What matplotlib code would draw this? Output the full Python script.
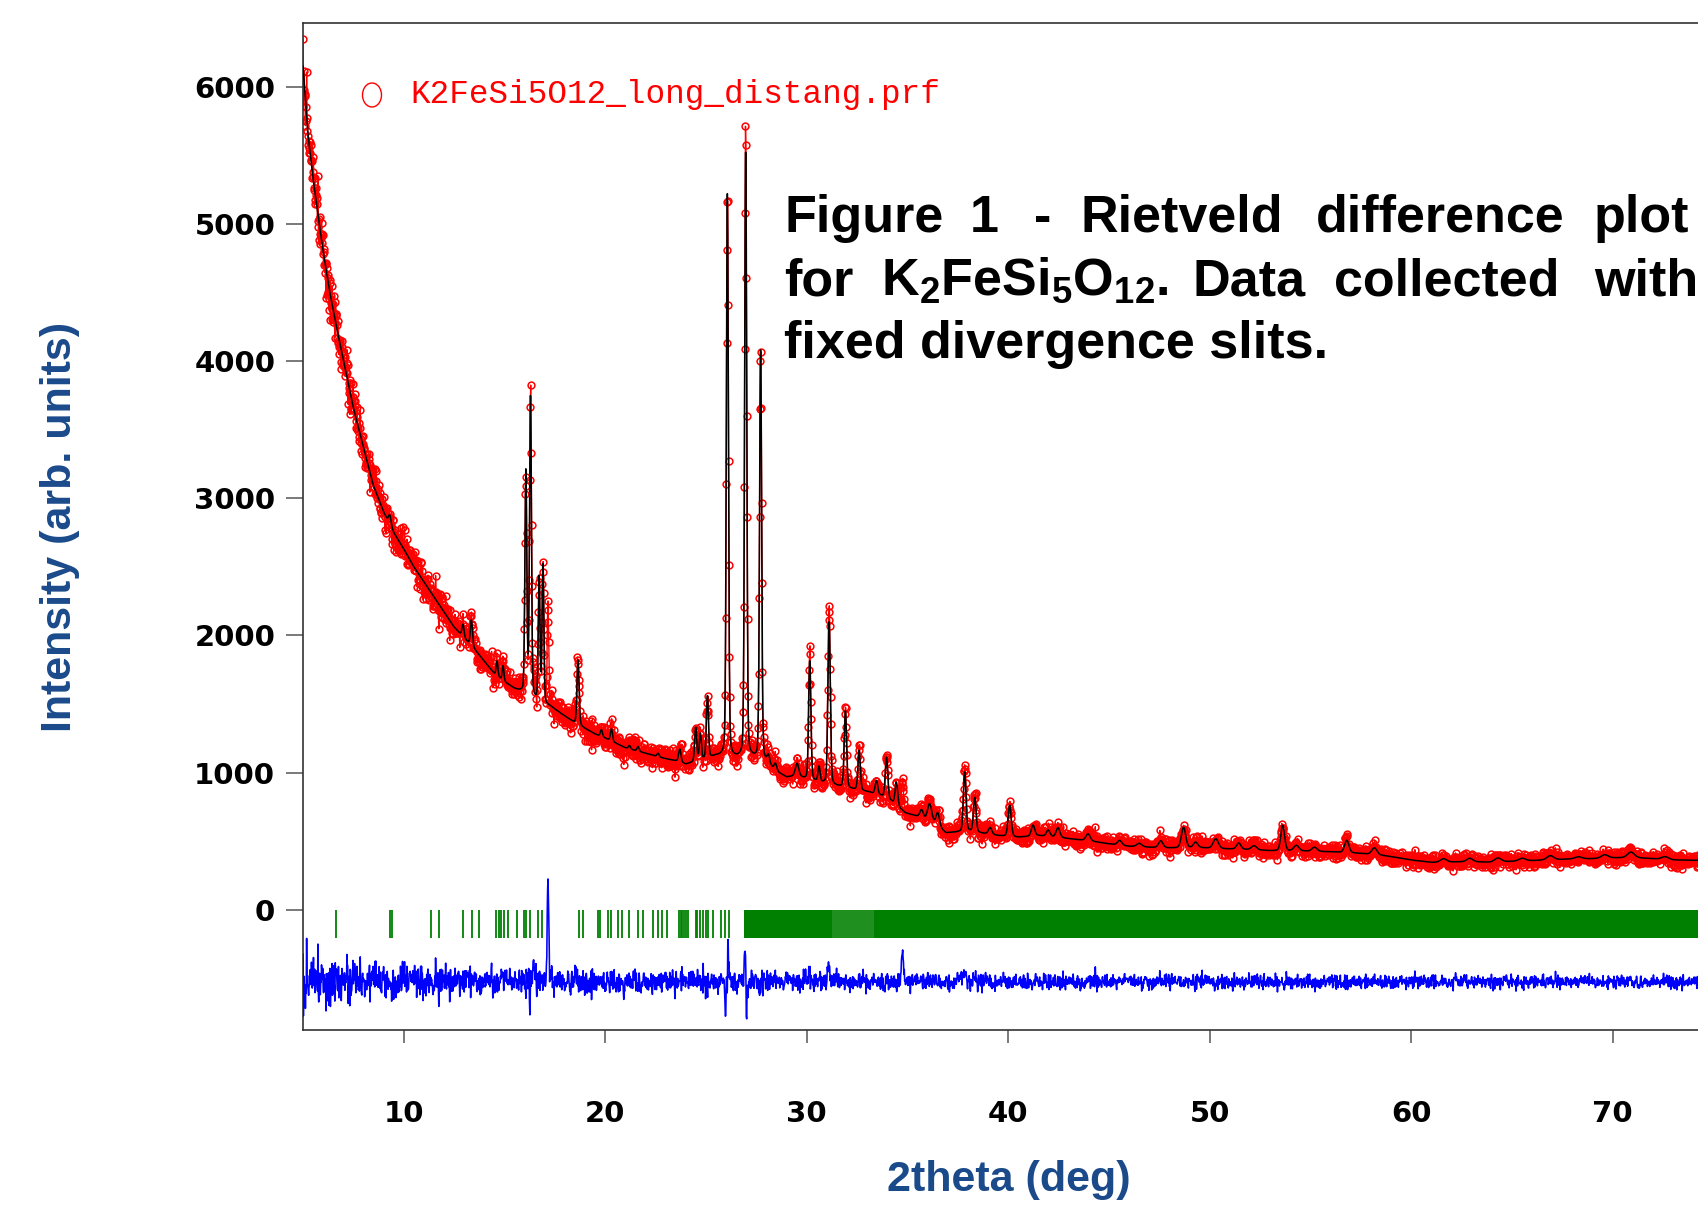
import numpy as np
import matplotlib
matplotlib.use("Agg")
import matplotlib.pyplot as plt
from matplotlib.patches import Ellipse

# ---------------- data ----------------
# background (2theta, intensity)
bg_tth = [5.0, 5.25, 5.5, 5.75, 6.0, 6.33, 6.66, 7.0, 7.5, 8.0, 8.5, 9.0, 9.5, 10.0,
          10.5, 11.0, 11.5, 12.0, 12.5, 13.0, 13.5, 14.0, 14.5, 15.0, 15.5, 15.8, 16.5,
          17.3, 18.0, 18.5, 19.0, 19.5, 20.0, 20.5, 21.0, 21.5, 22.0, 22.5, 23.0, 23.5,
          24.0, 24.5, 25.0, 25.5, 26.0, 26.5, 27.3, 28.0, 28.5, 29.0, 29.5, 30.0, 30.6,
          31.5, 32.2, 33.0, 33.7, 34.2, 34.9, 35.5, 36.5, 36.9, 37.4, 38.0, 38.8, 39.5,
          40.5, 41.5, 42.0, 43.0, 44.0, 45.0, 46.0, 47.0, 48.0, 49.5, 50.5, 52.0, 53.0,
          54.5, 56.0, 57.5, 58.6, 59.3, 60.0, 61.0, 62.0, 63.0, 64.0, 65.0, 66.0, 67.0,
          68.0, 69.0, 70.0, 71.0, 72.0, 73.0, 74.0, 80.0]
bg_int = [6150, 5650, 5330, 5060, 4800, 4500, 4250, 4010, 3660, 3370, 3090, 2900, 2750, 2630,
          2500, 2390, 2280, 2170, 2060, 1980, 1900, 1810, 1720, 1660, 1610, 1590, 1530,
          1480, 1410, 1360, 1320, 1280, 1250, 1215, 1180, 1160, 1140, 1120, 1100, 1085,
          1060, 1080, 1100, 1120, 1115, 1105, 1105, 1070, 1005, 965, 975, 950, 930,
          900, 880, 860, 830, 790, 705, 680, 615, 560, 565, 575, 555, 540,
          528, 540, 535, 518, 502, 480, 462, 455, 450, 452, 445, 438, 430,
          428, 422, 410, 395, 380, 362, 345, 348, 350, 345, 352, 358, 364,
          370, 372, 378, 380, 372, 363, 360, 355]

# Bragg peaks of the calculated pattern: position, height above background, FWHM
peak_pos = [9.31, 12.94, 13.36, 14.63, 14.93, 16.06, 16.29, 16.72, 16.91, 18.65,
            19.81, 20.31, 21.20, 21.63, 22.62, 23.70, 24.49, 24.72, 25.07, 26.06,
            26.97, 27.71, 28.10, 28.45, 29.52, 30.15, 30.61, 31.11, 31.92, 32.60,
            33.46, 33.96, 34.45, 35.70, 36.10, 36.50, 37.84, 38.34, 39.10, 40.07,
            41.23, 41.98, 42.47, 43.96, 45.53, 46.50, 47.57, 48.70, 49.30, 50.30,
            51.44, 52.20, 53.62, 54.30, 55.20, 56.80, 58.17, 61.60, 62.90, 64.30,
            65.50, 66.90, 68.30, 69.60, 70.90, 72.60]
peak_amp = [70, 90, 190, 110, 110, 1620, 2230, 900, 1030, 480,
            50, 90, 25, 35, 25, 95, 250, 190, 460, 4100,
            4500, 3050, 60, 50, 90, 880, 110, 1200, 560, 290,
            100, 300, 170, 60, 130, 90, 430, 250, 50, 230,
            80, 45, 70, 50, 35, 25, 50, 150, 40, 70,
            45, 30, 185, 40, 30, 90, 50, 25, 25, 30,
            20, 30, 15, 25, 40, 20]
peak_fwhm = [0.15, 0.12, 0.12, 0.10, 0.10, 0.11, 0.11, 0.10, 0.10, 0.12,
             0.12, 0.12, 0.12, 0.12, 0.12, 0.14, 0.12, 0.12, 0.12, 0.12,
             0.12, 0.12, 0.15, 0.15, 0.20, 0.13, 0.12, 0.14, 0.14, 0.14,
             0.15, 0.15, 0.15, 0.20, 0.25, 0.20, 0.15, 0.15, 0.20, 0.18,
             0.20, 0.20, 0.22, 0.25, 0.25, 0.30, 0.25, 0.25, 0.25, 0.30,
             0.25, 0.30, 0.22, 0.30, 0.30, 0.25, 0.30, 0.35, 0.35, 0.40,
             0.40, 0.40, 0.40, 0.40, 0.40, 0.40]

# features in the observed data that the model misses (give the spikes in obs-calc)
misfit_pos = [5.73, 16.45, 17.16, 25.98, 26.10, 26.93, 27.02, 30.15, 31.11, 34.75, 37.84]
misfit_amp = [250, 140, 760, -220, 270, 230, -170, 60, 90, 220, 80]
misfit_fwhm = [0.03, 0.10, 0.09, 0.06, 0.06, 0.06, 0.06, 0.10, 0.12, 0.10, 0.12]

# Bragg reflection markers
bragg_sparse = [6.66, 9.31, 9.44, 11.34, 11.75, 12.94, 13.37, 13.74, 14.60, 14.71,
                14.85, 14.96, 15.18, 15.62, 15.97, 16.09, 16.25, 16.67, 16.88, 18.70,
                18.90, 19.64, 19.73, 20.14, 20.31, 20.64, 20.81, 21.18, 21.63, 21.88,
                22.37, 22.62, 22.84, 23.04, 23.66, 23.74, 23.82, 23.92, 24.02, 24.11,
                24.49, 24.56, 24.72, 24.85, 25.00, 25.10, 25.35, 25.72, 25.93, 26.14]
bragg_dense_start = [26.87, 31.25, 33.35]
bragg_dense_end = [31.25, 33.35, 80.0]
bragg_dense_alpha = [1.0, 0.88, 1.0]

diff_offset = -525
noise_factor = 1.25
step = 0.02

xticks = [10, 20, 30, 40, 50, 60, 70]
yticks = [0, 1000, 2000, 3000, 4000, 5000, 6000]

# ---------------- build profiles ----------------
tth = np.arange(5.0, 80.0 + step / 2, step)
bg = np.interp(tth, bg_tth, bg_int)


def pv(x, x0, h, w, eta=0.2):
    g = np.exp(-4 * np.log(2) * ((x - x0) / w) ** 2)
    l = 1.0 / (1.0 + 4 * ((x - x0) / w) ** 2)
    return h * ((1 - eta) * g + eta * l)


calc = bg.copy()
for p, a, w in zip(peak_pos, peak_amp, peak_fwhm):
    calc += pv(tth, p, a, w)
extra = np.zeros_like(tth)
for p, a, w in zip(misfit_pos, misfit_amp, misfit_fwhm):
    extra += pv(tth, p, a, w, eta=0.0)
rng = np.random.default_rng(3)
obs = calc + extra + noise_factor * np.sqrt(calc) * rng.standard_normal(tth.size)
diff = obs - calc + diff_offset

# ---------------- figure ----------------
W, H = 1698, 1210
fig = plt.figure(figsize=(W / 100, H / 100), dpi=100)
ax = fig.add_axes([303 / W, 180 / H, 75 * 20.15 / W, 1007.3 / H])

ax.plot(tth, obs, color="#ff0000", lw=1.0, marker="o", ms=4.9, mfc="none",
        mec="#ff0000", mew=1.1, zorder=2)
ax.plot(tth, calc, color="black", lw=1.1, zorder=3)
ax.vlines(bragg_sparse, -208, 0, color="#008000", lw=1.3, zorder=2)
for a, b, al in zip(bragg_dense_start, bragg_dense_end, bragg_dense_alpha):
    ax.fill_between([a, b], -208, 0, color="#008000", alpha=al, lw=0, zorder=2)
ax.plot(tth, diff, color="#0000ff", lw=1.15, zorder=3)

ax.set_xlim(5, 80)
ax.set_ylim(-877, 6466)
ax.set_xticks(xticks)
ax.set_yticks(yticks)
ax.set_xticklabels([str(v) for v in xticks])
ax.set_yticklabels([str(v) for v in yticks])
for lab in ax.get_xticklabels() + ax.get_yticklabels():
    lab.set_fontfamily("DejaVu Sans")
    lab.set_fontweight("bold")
    lab.set_fontsize(21)
ax.tick_params(axis="x", length=9.5, width=1.1, pad=41, color="#555555", labelcolor="black")
ax.tick_params(axis="y", length=12, width=1.1, pad=8, color="#555555", labelcolor="black")
for s in ["left", "bottom", "top"]:
    ax.spines[s].set_color("#333333")
    ax.spines[s].set_linewidth(1.2)
ax.spines["right"].set_visible(False)

# axis labels
lab_color = "#1a4a8a"
fig.text(60 / W, 1 - 527 / H, "Intensity (arb. units)", rotation=90, ha="center", va="center",
         fontsize=31, fontweight="bold", family="Liberation Sans", color=lab_color)
fig.text(1009 / W, 1 - 1180 / H, "2theta (deg)", ha="center", va="center",
         fontsize=31, fontweight="bold", family="Liberation Sans", color=lab_color)

# file legend
fig.add_artist(Ellipse((372 / W, 1 - 95 / H), 19 / W, 24 / H, transform=fig.transFigure,
                       fill=False, ec="#ff0000", lw=1.0))
fig.text(410 / W, 1 - 95 / H, "K2FeSi5O12_long_distang.prf", ha="left", va="center",
         fontsize=23.5, family="Liberation Mono", color="#ff0000")

# caption (justified by word placement)
plt.rcParams["mathtext.fontset"] = "custom"
plt.rcParams["mathtext.rm"] = "Liberation Sans:bold"
plt.rcParams["mathtext.it"] = "Liberation Sans:bold"
plt.rcParams["mathtext.default"] = "rm"
cap_words = [
    (784, 231.7, "Figure"), (970, 231.7, "1"), (1034, 231.7, "-"), (1080, 231.7, "Rietveld"),
    (1316, 231.7, "difference"), (1594, 231.7, "plot"),
    (784, 295, "for"), (881, 295, r"K$_2$FeSi$_5$O$_{12}$."), (1193, 295, "Data"),
    (1334, 295, "collected"), (1594, 295, "with"),
    (784, 358.3, "fixed divergence slits."),
]
for x, y, w in cap_words:
    fig.text(x / W, 1 - y / H, w, ha="left", va="baseline", fontsize=37.5,
             fontweight="bold", family="Liberation Sans", color="black")

fig.savefig("out.png", dpi=100)
